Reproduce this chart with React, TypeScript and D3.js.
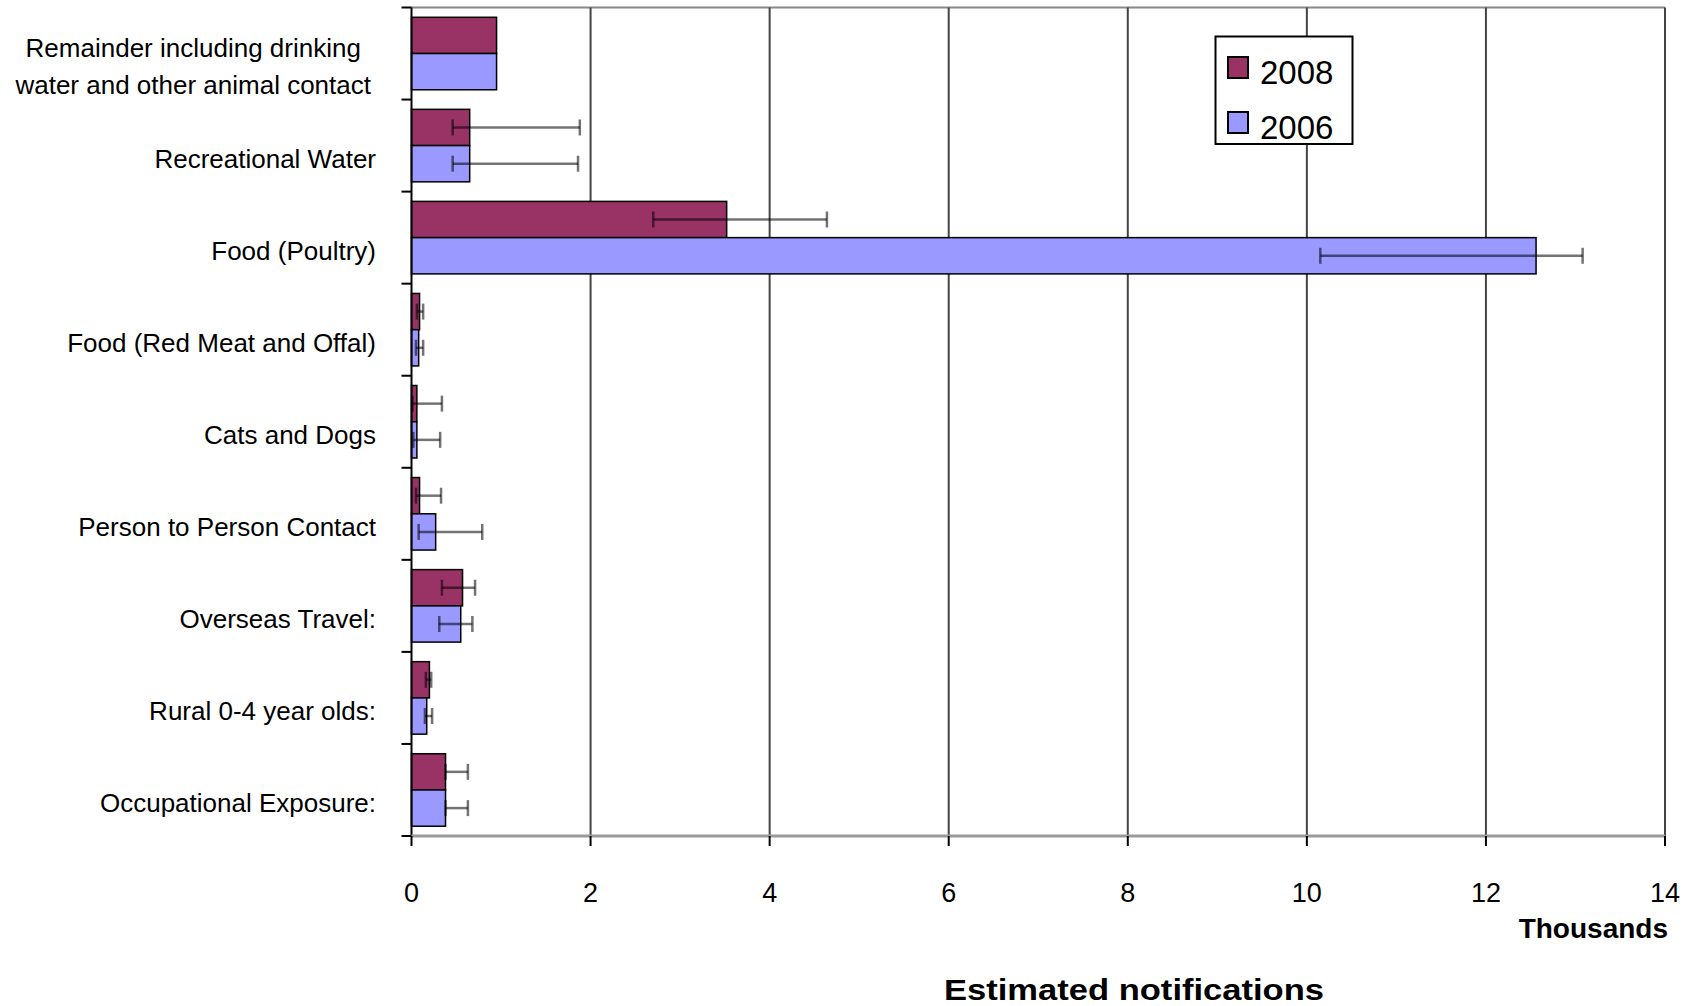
import React from "react";
import * as d3 from "d3";

// categories top to bottom, values in thousands
const categories = [
  "Remainder including drinking\nwater and other animal contact",
  "Recreational Water",
  "Food (Poultry)",
  "Food (Red Meat and Offal)",
  "Cats and Dogs",
  "Person to Person Contact",
  "Overseas Travel:",
  "Rural 0-4 year olds:",
  "Occupational Exposure:",
];
const seriesNames = ["2008", "2006"];
const values2008 = [0.95, 0.65, 3.52, 0.09, 0.06, 0.09, 0.57, 0.2, 0.38];
const values2006 = [0.95, 0.65, 12.56, 0.08, 0.06, 0.27, 0.55, 0.17, 0.38];
const errLow2008 = [null, 0.46, 2.7, 0.06, 0.01, 0.05, 0.34, 0.16, 0.38];
const errHigh2008 = [null, 1.88, 4.64, 0.13, 0.34, 0.33, 0.71, 0.22, 0.63];
const errLow2006 = [null, 0.46, 10.15, 0.05, 0.02, 0.08, 0.31, 0.15, 0.38];
const errHigh2006 = [null, 1.86, 13.08, 0.13, 0.32, 0.79, 0.68, 0.23, 0.63];
const xTicks = [0, 2, 4, 6, 8, 10, 12, 14];

const FONT = "'Liberation Sans', Arial, sans-serif";
const colors = ["#993366", "#9999ff"];

const measure = (txt: string, font: string) => {
  const c = document.createElement("canvas").getContext("2d");
  if (!c) return txt.length * 12;
  c.font = font;
  return c.measureText(txt).width;
};

const App = () => {
  const left = 411.5,
    right = 1665,
    top = 7.5,
    bottom = 836;

  const x = d3.scaleLinear().domain([0, 14]).range([left, right]);
  const y = d3.scaleBand().domain(categories).range([top, bottom]);
  const ys = d3
    .scaleBand()
    .domain(seriesNames)
    .range([0, y.bandwidth()])
    .paddingInner(0)
    .paddingOuter(0.27);

  const series = [
    { name: "2008", vals: values2008, lo: errLow2008, hi: errHigh2008 },
    { name: "2006", vals: values2006, lo: errLow2006, hi: errHigh2006 },
  ];

  const labelSize = 26;
  const labelFont = `${labelSize}px ${FONT}`;

  return (
    <svg
      width={1684}
      height={1006}
      style={{ position: "absolute", left: 0, top: 0, background: "#fff" }}
      fontFamily={FONT}
    >
      {/* top border */}
      <line x1={left} x2={right} y1={top} y2={top} stroke="#888" strokeWidth={2} />
      {/* gridlines */}
      {xTicks.slice(1).map((t) => (
        <line
          key={"g" + t}
          x1={x(t)}
          x2={x(t)}
          y1={top}
          y2={bottom}
          stroke="#444"
          strokeWidth={2}
        />
      ))}
      {/* bars */}
      {series.map((s, si) =>
        categories.map((c, i) => (
          <rect
            key={s.name + i}
            x={x(0)}
            y={(y(c) ?? 0) + (ys(s.name) ?? 0)}
            width={x(s.vals[i]) - x(0)}
            height={ys.bandwidth()}
            fill={colors[si]}
            stroke="#000"
            strokeWidth={1.5}
          />
        ))
      )}
      {/* error bars */}
      {series.map((s) =>
        categories.map((c, i) => {
          const lo = s.lo[i];
          const hi = s.hi[i];
          if (lo == null || hi == null) return null;
          const cy = (y(c) ?? 0) + (ys(s.name) ?? 0) + ys.bandwidth() / 2;
          return (
            <g key={"e" + s.name + i} stroke="rgba(0,0,0,0.55)" strokeWidth={2.5}>
              <line x1={x(lo)} x2={x(hi)} y1={cy} y2={cy} />
              <line x1={x(lo)} x2={x(lo)} y1={cy - 8} y2={cy + 8} />
              <line x1={x(hi)} x2={x(hi)} y1={cy - 8} y2={cy + 8} />
            </g>
          );
        })
      )}
      {/* y axis */}
      <line x1={left} x2={left} y1={top} y2={bottom} stroke="#000" strokeWidth={2} />
      {[...categories.map((c) => y(c) ?? 0), bottom].map((v, i) => (
        <line key={"yt" + i} x1={left - 10} x2={left} y1={v} y2={v} stroke="#000" strokeWidth={2} />
      ))}
      {categories.map((c) => {
        const lines = c.split("\n");
        const cy = (y(c) ?? 0) + y.bandwidth() / 2 + 13;
        const lh = 37;
        if (lines.length === 1) {
          return (
            <text
              key={c}
              x={376}
              y={cy}
              textAnchor="end"
              dominantBaseline="central"
              fontSize={labelSize}
              fill="#000"
            >
              {c}
            </text>
          );
        }
        const maxW = d3.max(lines, (l) => measure(l, labelFont)) ?? 0;
        const mid = 371 - maxW / 2;
        return (
          <text
            key={c}
            x={mid}
            textAnchor="middle"
            dominantBaseline="central"
            fontSize={labelSize}
            fill="#000"
          >
            {lines.map((l, k) => (
              <tspan key={k} x={mid} y={cy + (k - (lines.length - 1) / 2) * lh}>
                {l}
              </tspan>
            ))}
          </text>
        );
      })}
      {/* x axis */}
      <line x1={left} x2={right} y1={bottom} y2={bottom} stroke="#999" strokeWidth={3} />
      {xTicks.map((t) => (
        <g key={"xt" + t}>
          <line x1={x(t)} x2={x(t)} y1={bottom} y2={bottom + 10} stroke="#000" strokeWidth={2} />
          <text x={x(t)} y={901.5} textAnchor="middle" fontSize={27} fill="#000">
            {t}
          </text>
        </g>
      ))}
      <text x={1668} y={938} textAnchor="end" fontSize={28} fontWeight="bold" fill="#000">
        Thousands
      </text>
      <text
        x={1134}
        y={1000}
        textAnchor="middle"
        fontSize={30}
        fontWeight="bold"
        textLength={380}
        lengthAdjust="spacingAndGlyphs"
        fill="#000"
      >
        Estimated notifications
      </text>
      {/* legend */}
      <rect x={1215.5} y={36.5} width={137} height={107.5} fill="#fff" stroke="#000" strokeWidth={2} />
      {seriesNames.map((n, i) => (
        <g key={"lg" + n} transform={`translate(1228,${57 + i * 55})`}>
          <rect width={20} height={21} fill={colors[i]} stroke="#000" strokeWidth={2} />
          <text x={32} y={27} fontSize={33} fill="#000">
            {n}
          </text>
        </g>
      ))}
    </svg>
  );
};

export default App;
